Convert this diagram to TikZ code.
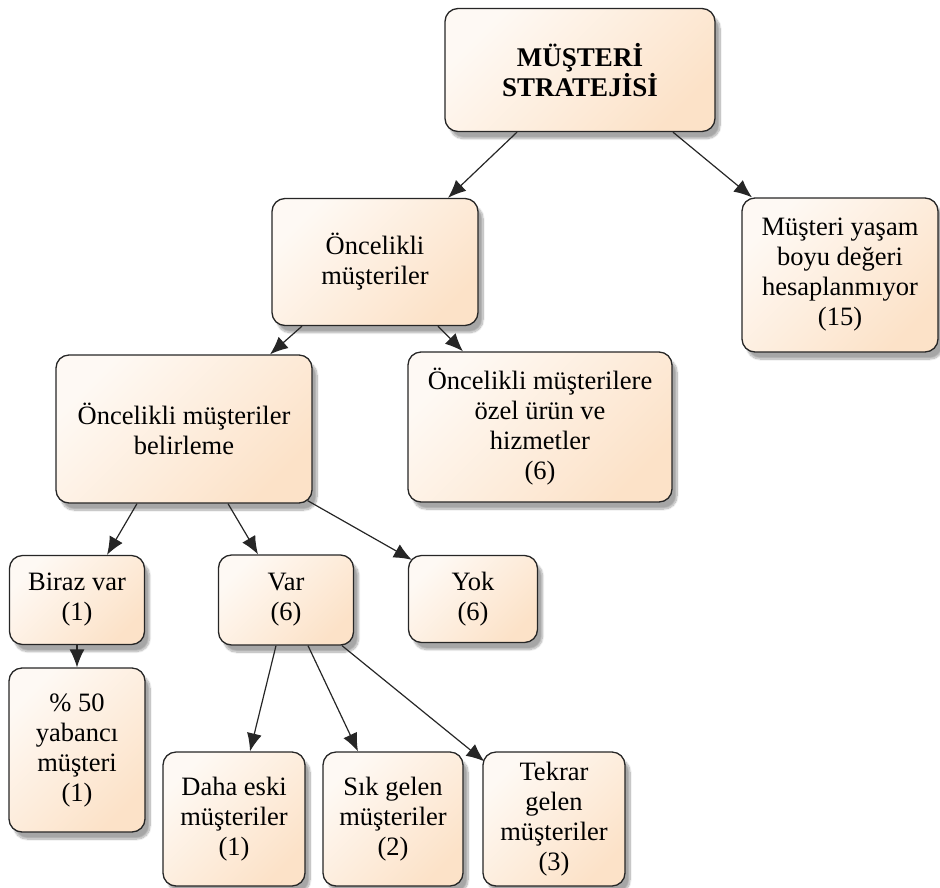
\documentclass[tikz,border=0pt]{standalone}
\usepackage{fontspec}
\setmainfont{Liberation Serif}
\usepackage{xcolor}
\usetikzlibrary{arrows.meta,shadows.blur}

\definecolor{peach}{RGB}{252,226,200}
\definecolor{boxline}{RGB}{38,38,38}

\tikzset{
  box/.style={draw=boxline, line width=1.3pt, rounded corners=13pt, align=center,
    top color=white!80!peach, bottom color=peach, shading angle=45,
    blur shadow={shadow xshift=5pt, shadow yshift=-7pt, shadow blur steps=12, shadow opacity=35},
    text=black, font=\fontsize{26.5}{30}\selectfont\rmfamily, inner sep=2pt},
  link/.style={-{Latex[length=18pt,width=15pt]}, line width=1.2pt, draw=boxline}
}

\begin{document}
\begin{tikzpicture}[x=1pt,y=-1pt]
\useasboundingbox (0,0) rectangle (940,887);

% Top level
\node[box, minimum width=270pt, minimum height=123pt, font=\fontsize{27}{25}\selectfont\rmfamily\bfseries] (strateji) at (580,70) {MÜŞTERİ\\STRATEJİSİ};
\node[box, minimum width=206pt, minimum height=127pt] (oncelik) at (375,262) {Öncelikli\\müşteriler};
\node[box, minimum width=196pt, minimum height=154pt] (yasam) at (840,275) {Müşteri yaşam\\boyu değeri\\hesaplanmıyor\\(15)};

% Second level
\node[box, minimum width=256pt, minimum height=148pt] (belirleme) at (184,429) {Öncelikli müşteriler\\belirleme};
\node[box, minimum width=264pt, minimum height=150pt] (ozel) at (540,427) {Öncelikli müşterilere\\özel ürün ve\\hizmetler\\(6)};

% Third level
\node[box, minimum width=135pt, minimum height=89pt] (biraz) at (77,600) {Biraz var\\(1)};
\node[box, minimum width=135pt, minimum height=90pt] (var) at (286,600) {Var\\(6)};
\node[box, minimum width=129pt, minimum height=87pt] (yok) at (473,599) {Yok\\(6)};

% Bottom level
\node[box, minimum width=136pt, minimum height=164pt] (yabanci) at (77,750) {\% 50\\yabancı\\müşteri\\(1)};
\node[box, minimum width=142pt, minimum height=134pt] (eski) at (234,819) {Daha eski\\müşteriler\\(1)};
\node[box, minimum width=140pt, minimum height=134pt] (sik) at (393,819) {Sık gelen\\müşteriler\\(2)};
\node[box, minimum width=142pt, minimum height=134pt] (tekrar) at (554,819) {Tekrar\\gelen\\müşteriler\\(3)};

% Connectors
\draw[link] ([xshift=-63pt]strateji.south) -- ([xshift=73pt]oncelik.north);
\draw[link] ([xshift=93pt]strateji.south) -- ([xshift=-88pt]yasam.north);
\draw[link] ([xshift=-73pt]oncelik.south) -- ([xshift=86pt]belirleme.north);
\draw[link] ([xshift=63pt]oncelik.south) -- ([xshift=-77pt]ozel.north);
\draw[link] ([xshift=-47pt]belirleme.south) -- ([xshift=30pt]biraz.north);
\draw[link] ([xshift=44pt]belirleme.south) -- ([xshift=-28pt]var.north);
\draw[link] ([xshift=-5pt,yshift=3pt]belirleme.south east) -- ([xshift=4pt,yshift=-5pt]yok.north west);
\draw[link] (biraz.south) -- (yabanci.north);
\draw[link] ([xshift=-10pt]var.south) -- ([xshift=16pt]eski.north);
\draw[link] ([xshift=22pt]var.south) -- ([xshift=-35pt]sik.north);
\draw[link] ([xshift=56pt]var.south) -- ([xshift=2pt,yshift=-10pt]tekrar.north west);
\end{tikzpicture}
\end{document}
